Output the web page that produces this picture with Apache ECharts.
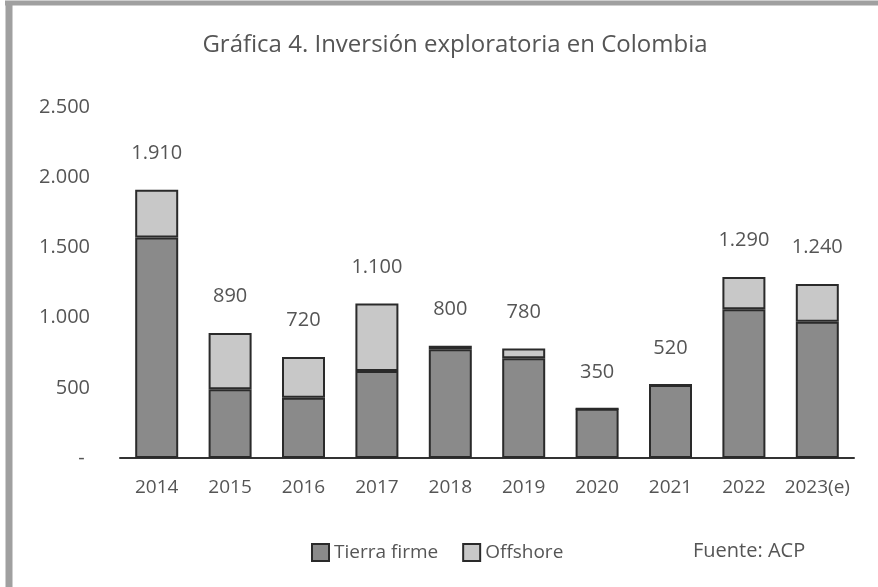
<!DOCTYPE html>
<html>
<head>
<meta charset="utf-8">
<script src="https://cdn.jsdelivr.net/npm/echarts@6/dist/echarts.min.js"></script>
<style>html,body{margin:0;padding:0;background:#fff}#c{width:878px;height:587px}</style>
</head>
<body>
<div id="c"></div>
<script>
var categories = ['2014','2015','2016','2017','2018','2019','2020','2021','2022','2023(e)'];
var tierraFirme = [1570, 490, 430, 620, 775, 710, 350, 520, 1060, 970];
var offshore = [340, 400, 290, 480, 25, 70, 0, 0, 230, 270];
var totals = [1910, 890, 720, 1100, 800, 780, 350, 520, 1290, 1240];
var yTicks = [0, 500, 1000, 1500, 2000, 2500];

function fmt(v) {
  if (v === 0) return '- ';
  return String(v).replace(/\B(?=(\d{3})+(?!\d))/g, '.');
}
var font = 'Open Sans';
var chart = echarts.init(document.getElementById('c'), null, {renderer: 'canvas'});
chart.setOption({
  backgroundColor: '#ffffff',
  animation: false,
  textStyle: {fontFamily: font},
  title: {
    text: 'Gráfica 4. Inversión exploratoria en Colombia',
    left: 450, textAlign: 'center', top: 28,
    textStyle: {fontFamily: font, fontSize: 24, fontWeight: 'normal', color: '#555'}
  },
  legend: {
    left: 306, top: 538,
    icon: 'rect',
    itemWidth: 17, itemHeight: 17, itemGap: 24,
    textStyle: {fontFamily: font, fontSize: 19, color: '#555'},
    data: ['Tierra firme', 'Offshore']
  },
  grid: {left: 120, right: 24, top: 107, bottom: 129},
  xAxis: {
    type: 'category', data: categories,
    axisLine: {lineStyle: {color: '#333', width: 2}},
    axisTick: {show: false},
    axisLabel: {fontFamily: font, fontSize: 19, color: '#555', margin: 20, interval: 0}
  },
  yAxis: {
    type: 'value', min: yTicks[0], max: yTicks[yTicks.length-1], interval: 500,
    splitLine: {show: false},
    axisLine: {show: false}, axisTick: {show: false},
    axisLabel: {fontFamily: font, fontSize: 20, color: '#555', margin: 30, formatter: fmt}
  },
  series: [
    {
      name: 'Tierra firme', type: 'bar', stack: 's', data: tierraFirme, barWidth: 43,
      itemStyle: {color: '#8a8a8a', borderColor: '#2a2a2a', borderWidth: 2}
    },
    {
      name: 'Offshore', type: 'bar', stack: 's', data: offshore, barWidth: 43,
      itemStyle: {color: '#c8c8c8', borderColor: '#2a2a2a', borderWidth: 2}
    },
    {
      name: 'Total', type: 'line', data: totals, symbol: 'circle', symbolSize: 1,
      itemStyle: {opacity: 0}, lineStyle: {opacity: 0}, silent: true,
      label: {show: true, position: 'top', distance: 26, opacity: 1, fontFamily: font, fontSize: 20, color: '#555', formatter: function(p){return fmt(p.value);}}
    }
  ],
  graphic: [
    {type: 'line', shape: {x1: 5, y1: 3, x2: 878, y2: 3}, style: {stroke: '#a0a0a0', lineWidth: 5}},
    {type: 'line', shape: {x1: 9, y1: 3, x2: 9, y2: 587}, style: {stroke: '#a0a0a0', lineWidth: 7}},
    {type: 'text', left: 693, top: 541, style: {text: 'Fuente: ACP', font: '20px "Open Sans"', fill: '#555'}}
  ]
});
</script>
</body>
</html>
